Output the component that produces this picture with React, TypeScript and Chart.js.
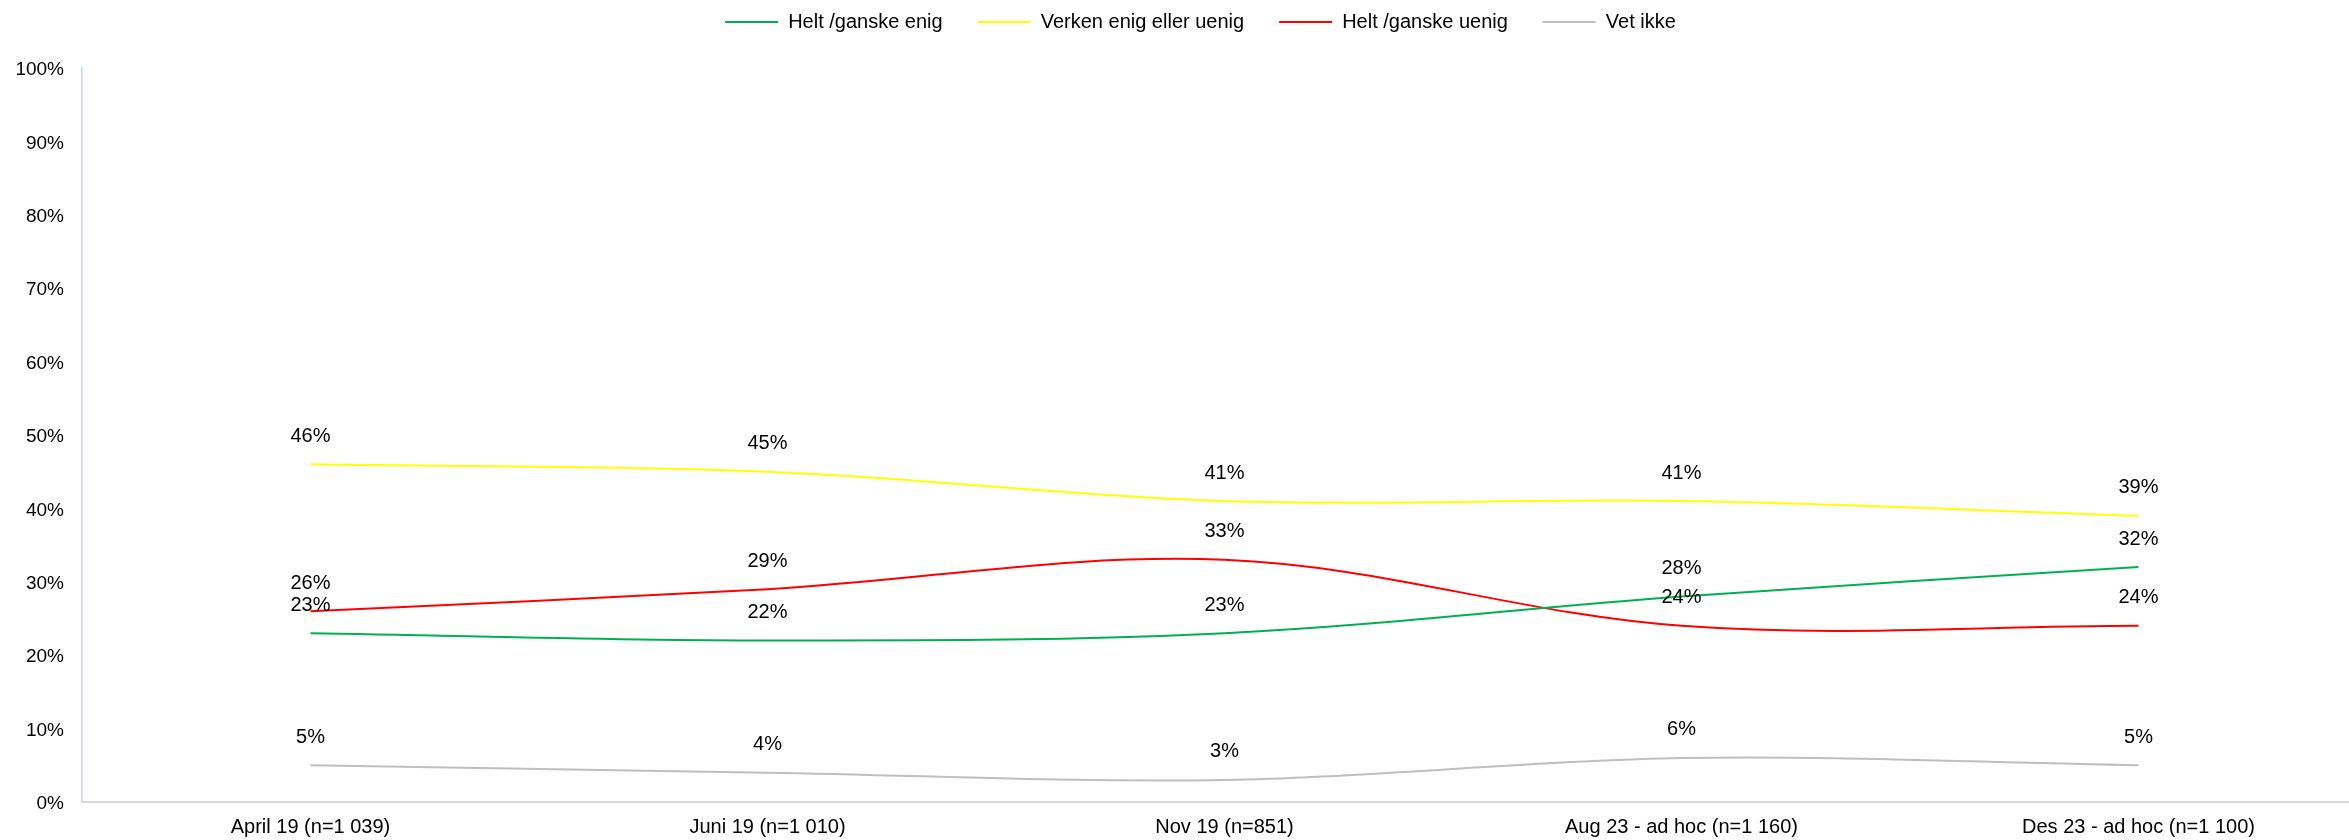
import React, { useEffect, useRef } from 'react';
import { Chart, registerables } from 'chart.js';

Chart.register(...registerables);

const categories = [
  'April 19 (n=1 039)',
  'Juni 19 (n=1 010)',
  'Nov 19 (n=851)',
  'Aug 23 - ad hoc (n=1 160)',
  'Des 23 - ad hoc (n=1 100)',
];
const seriesNames = ['Helt /ganske enig', 'Verken enig eller uenig', 'Helt /ganske uenig', 'Vet ikke'];
const enig = [23, 22, 23, 28, 32];
const verken = [46, 45, 41, 41, 39];
const uenig = [26, 29, 33, 24, 24];
const vetIkke = [5, 4, 3, 6, 5];
const seriesColors = ['#00B050', '#FFFF00', '#FF0000', '#BFBFBF'];
const yMin = 0;
const yMax = 100;
const yStep = 10;

const FONT = "'Liberation Sans', Arial, Helvetica, sans-serif";

const dataLabelPlugin = {
  id: 'dataLabels',
  afterDatasetsDraw(chart: any) {
    const ctx = chart.ctx;
    ctx.save();
    ctx.font = `20px ${FONT}`;
    ctx.fillStyle = '#000';
    ctx.textAlign = 'center';
    ctx.textBaseline = 'middle';
    chart.data.datasets.forEach((ds: any, i: number) => {
      const meta = chart.getDatasetMeta(i);
      meta.data.forEach((el: any, j: number) => {
        ctx.fillText(`${ds.data[j]}%`, el.x, el.y - 28);
      });
    });
    ctx.restore();
  },
};

const legendTweakPlugin = {
  id: 'legendTweak',
  beforeLayout(chart: any) {
    const legend = chart.legend;
    if (legend && !legend.__patched) {
      const origFit = legend.fit.bind(legend);
      legend.fit = function () {
        origFit();
        this.height = 68;
      };
      legend.__patched = true;
    }
  },
  afterLayout(chart: any) {
    const legend = chart.legend;
    if (legend) {
      legend.top = -23;
      legend.bottom = 45;
      legend.left += 17;
      legend.right += 17;
    }
  },
};

export default function App() {
  const canvasRef = useRef<HTMLCanvasElement | null>(null);

  useEffect(() => {
    if (!canvasRef.current) return;
    const seriesData = [enig, verken, uenig, vetIkke];
    const chart = new Chart(canvasRef.current, {
      type: 'line',
      data: {
        labels: categories,
        datasets: seriesNames.map((name, i) => ({
          label: name,
          data: seriesData[i],
          borderColor: seriesColors[i],
          backgroundColor: seriesColors[i],
          borderWidth: 2,
          pointRadius: 0,
          pointHoverRadius: 0,
          tension: 0.35,
          fill: false,
        })),
      },
      options: {
        responsive: false,
        animation: false,
        maintainAspectRatio: false,
        layout: { padding: 0 },
        font: { family: FONT, size: 20 },
        color: '#000',
        plugins: {
          legend: {
            display: true,
            position: 'top',
            labels: {
              font: { family: FONT, size: 20 },
              color: '#000',
              boxWidth: 53,
              boxHeight: 2,
              padding: 35,
              generateLabels: (chart: any) => {
                const items = Chart.defaults.plugins.legend.labels.generateLabels(chart);
                return items.map((it: any) => ({ ...it, lineWidth: 0 }));
              },
            },
          },
          tooltip: { enabled: false },
        },
        scales: {
          x: {
            type: 'category',
            offset: true,
            grid: { display: false, drawTicks: false },
            border: { display: true, color: '#D9D9D9', width: 2 },
            ticks: {
              font: { family: FONT, size: 20 },
              color: '#000',
              padding: 13,
              maxRotation: 0,
              autoSkip: false,
            },
            afterFit: (scale: any) => {
              scale.height = 38;
            },
          },
          y: {
            min: yMin,
            max: yMax,
            grid: { display: false, drawTicks: false },
            border: { display: true, color: '#C8D5E8', width: 1.5 },
            ticks: {
              stepSize: yStep,
              font: { family: FONT, size: 19 },
              color: '#000',
              padding: 18,
              labelOffset: 2,
              callback: (v: any) => `${v}%`,
            },
            afterFit: (scale: any) => {
              scale.width = 82;
            },
          },
        },
      },
      plugins: [legendTweakPlugin, dataLabelPlugin],
    } as any);
    return () => chart.destroy();
  }, []);

  return (
    <div
      style={{
        position: 'fixed',
        left: 0,
        top: 0,
        width: 2349,
        height: 840,
        overflow: 'hidden',
        background: '#fff',
      }}
    >
      <canvas
        ref={canvasRef}
        width={2367}
        height={840}
        style={{ display: 'block', width: 2367, height: 840 }}
      />
    </div>
  );
}
